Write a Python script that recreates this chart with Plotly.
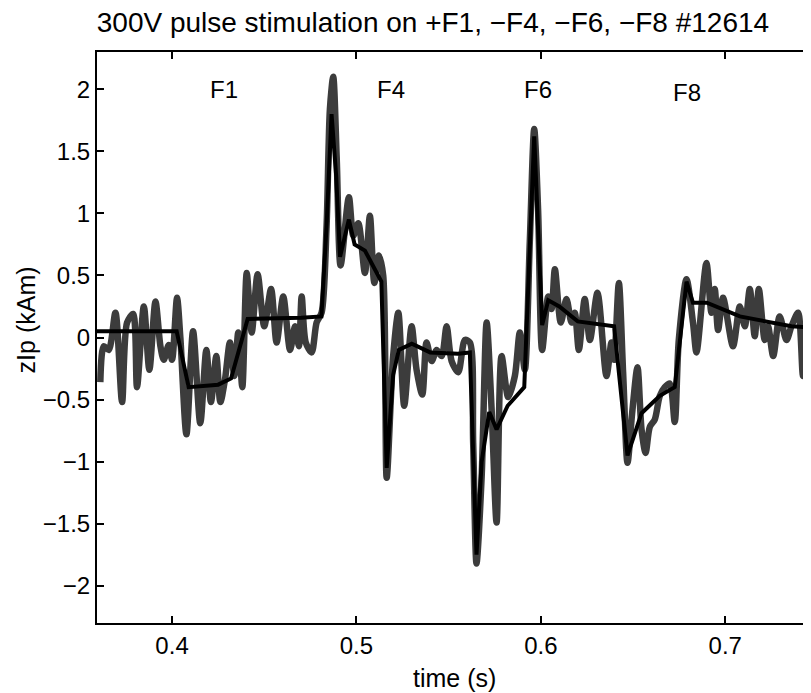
#!/usr/bin/env python3
"""zIp response to 300V pulse stimulation, shot #12614."""

import plotly.graph_objects as go

# measured signal (noisy trace)
t_meas = [
    0.3611, 0.3630, 0.3657, 0.3693, 0.3729, 0.3756, 0.3789, 0.3810, 0.3847, 0.3877,
    0.3910, 0.3937, 0.3955, 0.3982, 0.4000, 0.4027, 0.4045, 0.4078, 0.4114, 0.4153,
    0.4186, 0.4211, 0.4240, 0.4262, 0.4287, 0.4314, 0.4338, 0.4359, 0.4381, 0.4405,
    0.4432, 0.4464, 0.4500, 0.4537, 0.4567, 0.4603, 0.4640, 0.4667, 0.4688, 0.4703,
    0.4725, 0.4757, 0.4784, 0.4811, 0.4838, 0.4856, 0.4874, 0.4893, 0.4914, 0.4959,
    0.4983, 0.5010, 0.5046, 0.5073, 0.5097, 0.5122, 0.5145, 0.5164, 0.5199, 0.5227,
    0.5259, 0.5299, 0.5326, 0.5357, 0.5380, 0.5408, 0.5435, 0.5462, 0.5489, 0.5516,
    0.5552, 0.5588, 0.5615, 0.5633, 0.5651, 0.5679, 0.5706, 0.5733, 0.5760, 0.5787,
    0.5823, 0.5859, 0.5886, 0.5913, 0.5940, 0.5964, 0.5985, 0.6007, 0.6040, 0.6058,
    0.6076, 0.6108, 0.6139, 0.6166, 0.6184, 0.6206, 0.6238, 0.6266, 0.6307, 0.6356,
    0.6383, 0.6397, 0.6423, 0.6446, 0.6470, 0.6495, 0.6524, 0.6546, 0.6568, 0.6591,
    0.6618, 0.6645, 0.6672, 0.6699, 0.6726, 0.6748, 0.6790, 0.6825, 0.6844, 0.6898,
    0.6925, 0.6943, 0.6961, 0.6988, 0.7042, 0.7079, 0.7106, 0.7133, 0.7160, 0.7182,
    0.7214, 0.7232, 0.7260, 0.7295, 0.7332, 0.7359, 0.7395, 0.7422, 0.7450, 0.7465,
]
zip_meas = [
    -0.36, -0.07, -0.10, 0.20, -0.52, 0.12, 0.19, -0.40, 0.25, -0.26,
    0.29, -0.07, -0.18, -0.06, -0.18, 0.32, 0.00, -0.78, 0.05, -0.69,
    -0.10, -0.52, -0.15, -0.52, -0.34, -0.04, -0.31, 0.04, -0.40, 0.52,
    0.04, 0.51, 0.09, 0.39, -0.04, 0.33, -0.10, 0.09, -0.07, 0.33,
    -0.04, -0.12, 0.12, 0.20, 0.90, 1.84, 2.10, 1.44, 0.58, 1.13,
    0.82, 0.92, 0.52, 0.98, 0.44, 0.66, 0.50, -1.13, -0.15, 0.20,
    -0.55, 0.09, -0.26, -0.46, -0.04, -0.19, -0.10, -0.15, 0.09, -0.19,
    -0.28, -0.02, -0.04, -0.85, -1.82, -1.12, 0.12, -0.58, -1.49, -0.15,
    -0.48, -0.31, 0.04, -0.26, 0.77, 1.68, 1.03, -0.10, 0.33, 0.23,
    0.55, 0.12, 0.31, 0.12, 0.20, -0.10, 0.31, -0.02, 0.36, -0.31,
    -0.04, -0.18, 0.44, -0.28, -1.01, -0.61, -0.24, -0.74, -0.93, -0.72,
    -0.66, -0.47, -0.40, -0.37, -0.68, -0.02, 0.47, 0.12, -0.12, 0.60,
    0.20, 0.39, 0.06, 0.32, -0.07, 0.25, 0.09, 0.39, 0.01, 0.39,
    -0.02, 0.09, -0.15, 0.17, -0.02, 0.09, 0.20, -0.31, 0.12, 0.09,
]

# model response (smooth trace)
t_model = [
    0.3593, 0.4025, 0.4090, 0.4250, 0.4320, 0.4410, 0.4700, 0.4810, 0.4838, 0.4865,
    0.4890, 0.4911, 0.4959, 0.4990, 0.5046, 0.5100, 0.5135, 0.5164, 0.5199, 0.5230,
    0.5300, 0.5400, 0.5550, 0.5615, 0.5651, 0.5679, 0.5720, 0.5760, 0.5820, 0.5910,
    0.5964, 0.6007, 0.6040, 0.6100, 0.6200, 0.6397, 0.6470, 0.6546, 0.6645, 0.6726,
    0.6790, 0.6825, 0.6900, 0.7079, 0.7359, 0.7465,
]
zip_model = [
    0.05, 0.05, -0.40, -0.38, -0.33, 0.15, 0.16, 0.17, 0.90, 1.80,
    1.30, 0.65, 0.95, 0.75, 0.70, 0.55, 0.45, -1.05, -0.30, -0.10,
    -0.05, -0.12, -0.13, -0.12, -1.75, -1.00, -0.60, -0.74, -0.55, -0.40,
    1.62, 0.10, 0.30, 0.25, 0.13, 0.09, -0.95, -0.61, -0.47, -0.40,
    0.45, 0.28, 0.28, 0.17, 0.09, 0.08,
]

coil_labels = ["F1", "F4", "F6", "F8"]
coil_t = [0.4282, 0.5187, 0.5986, 0.6791]
coil_y = [2.0, 2.0, 2.0, 1.97]

x_ticks = [0.4, 0.5, 0.6, 0.7]
y_ticks = [-2, -1.5, -1, -0.5, 0, 0.5, 1, 1.5, 2]

FONT = "Liberation Sans, Arial, Helvetica, sans-serif"

fig = go.Figure()
fig.add_trace(go.Scatter(
    x=t_meas, y=zip_meas, mode="lines",
    line=dict(color="#3c3c3c", width=6.5, shape="spline", smoothing=0.8),
    showlegend=False,
))
fig.add_trace(go.Scatter(
    x=t_model, y=zip_model, mode="lines",
    line=dict(color="#000000", width=4),
    showlegend=False,
))

for lab, tx, ty in zip(coil_labels, coil_t, coil_y):
    fig.add_annotation(x=tx, y=ty, text=lab, showarrow=False,
                       font=dict(size=24, color="black", family=FONT))

# axis labels placed as annotations so they sit where the original has them
fig.add_annotation(xref="paper", yref="paper", x=-0.100, y=0.531, text="zIp (kAm)",
                   textangle=-90, showarrow=False, xanchor="center", yanchor="middle",
                   font=dict(size=25, color="black", family=FONT))
fig.add_annotation(xref="paper", yref="paper", x=0.5, y=-0.096, text="time (s)",
                   showarrow=False, xanchor="center", yanchor="middle",
                   font=dict(size=25, color="black", family=FONT))

axis_common = dict(
    showgrid=False, zeroline=False, showline=True, linecolor="black", linewidth=2,
    ticks="inside", ticklen=7, tickwidth=1.5, tickcolor="black", mirror="ticks",
    tickfont=dict(size=24, color="black", family=FONT), automargin=False,
)

fig.update_xaxes(range=[0.3593, 0.7465], tickvals=x_ticks,
                 ticktext=[str(v) for v in x_ticks], **axis_common)
fig.update_yaxes(range=[-2.3, 2.3], tickvals=y_ticks,
                 ticktext=[("\u2212" if v < 0 else "") + f"{abs(v):g}" for v in y_ticks],
                 **axis_common)

# the page body adds an 8px offset, so margins are shifted by that amount
fig.update_layout(
    width=811, height=693,
    margin=dict(l=89, r=8, t=44, b=78),
    paper_bgcolor="white", plot_bgcolor="white",
    title=dict(text="300V pulse stimulation on +F1, \u2212F4, \u2212F6, \u2212F8 #12614",
               xref="container", x=0.524, xanchor="center",
               yref="container", y=0.980, yanchor="middle",
               font=dict(size=28, color="black", family=FONT)),
)

fig.write_html("out.html")
